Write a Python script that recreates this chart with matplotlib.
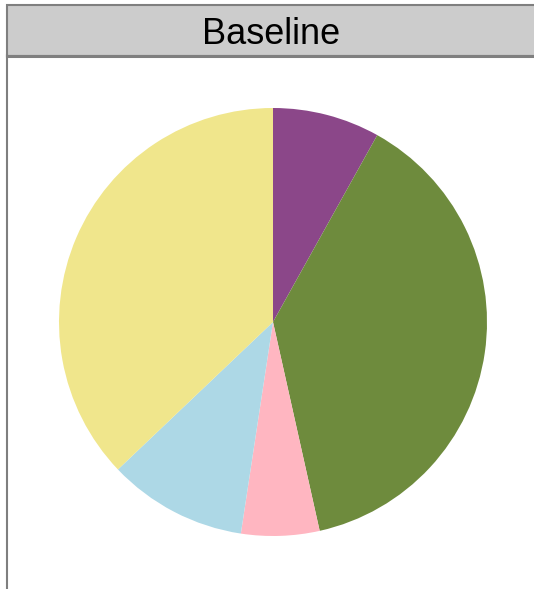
import matplotlib.pyplot as plt
from matplotlib.patches import Rectangle

plt.rcParams['font.family'] = ['Liberation Sans', 'DejaVu Sans']

# 데이터 — 시계 방향, 12시 방향부터
groups = ['A', 'B', 'C', 'D', 'E']
shares = [8.1, 38.4, 5.9, 10.5, 37.1]
colors = ['#8B4789', '#6E8B3D', '#FFB6C1', '#ADD8E6', '#F0E68C']
strip_title = 'Baseline'

W, H = 534, 589
fig = plt.figure(figsize=(W / 100, H / 100), dpi=100)
ax = fig.add_axes([0, 0, 1, 1])

# 파이 (픽셀 좌표계, y는 아래→위)
ax.pie(shares, colors=colors, startangle=90, counterclock=False,
       center=(273, H - 322), radius=214,
       wedgeprops=dict(linewidth=0))
ax.set_xlim(0, W)
ax.set_ylim(0, H)
ax.set_aspect('auto')
ax.axis('off')

# 패널 왼쪽 테두리
ax.plot([7, 7], [0, H - 55], color='#7F7F7F', linewidth=1.5, clip_on=False)

# 상단 스트립
ax.add_patch(Rectangle((7, H - 55.5), W + 10, 50.5, facecolor='#CCCCCC',
                       edgecolor='#7F7F7F', linewidth=1.5))
ax.plot([7, W], [H - 55.5, H - 55.5], color='#7F7F7F', linewidth=2.2)
ax.text(271, H - 44.5, strip_title, fontsize=26, ha='center', va='baseline',
        color='black')

plt.savefig('out.png', dpi=100)
